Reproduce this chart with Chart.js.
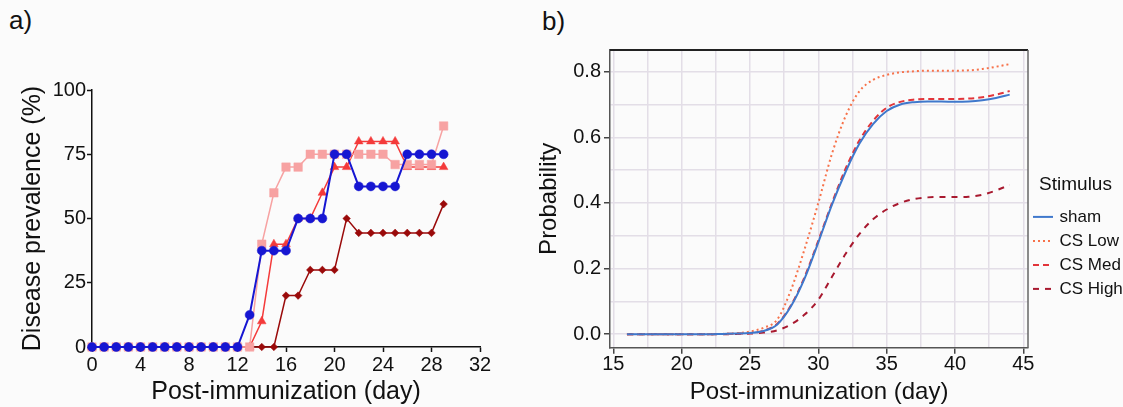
<!DOCTYPE html>
<html><head><meta charset="utf-8">
<script src="https://cdn.jsdelivr.net/npm/chart.js@4.4.1/dist/chart.umd.min.js"></script>
<style>
html,body{margin:0;padding:0;background:#fbfbfb;}
body{width:1123px;height:407px;position:relative;overflow:hidden;font-family:"Liberation Sans",Arial,sans-serif;}
#wa{position:absolute;left:0;top:0;width:535px;height:407px;}
#wb{position:absolute;left:535px;top:0;width:588px;height:407px;}
.lbl{position:absolute;font-size:26px;line-height:26px;color:#111;}
</style></head><body>
<div class="lbl" style="left:9px;top:7px">a)</div>
<div class="lbl" style="left:542px;top:8px">b)</div>
<div id="wa"><canvas id="ca"></canvas></div>
<div id="wb"><canvas id="cb"></canvas></div>
<script>
// ---- Panel a data ----
const daysA = [0,1,2,3,4,5,6,7,8,9,10,11,12,13,14,15,16,17,18,19,20,21,22,23,24,25,26,27,28,29];
const shamA = [0,0,0,0,0,0,0,0,0,0,0,0,0,12.5,37.5,37.5,37.5,50,50,50,75,75,62.5,62.5,62.5,62.5,75,75,75,75];
const lowA  = [0,0,0,0,0,0,0,0,0,0,0,0,0,0,40,60,70,70,75,75,75,75,75,75,75,71,71,71,71,86];
const medA  = [0,0,0,0,0,0,0,0,0,0,0,0,0,0,10,40,40,50,50,60,70,70,80,80,80,80,70,70,70,70];
const highA = [0,0,0,0,0,0,0,0,0,0,0,0,0,0,0,0,20,20,30,30,30,50,44.4,44.4,44.4,44.4,44.4,44.4,44.4,55.6];
const xTicksA = [0,4,8,12,16,20,24,28,32];
const yTicksA = [0,25,50,75,100];

// ---- Panel b data ----
const daysB = [16,17,18,19,20,21,22,23,24,25,26,27,28,29,30,31,32,33,34,35,36,37,38,39,40,41,42,43,44];
const shamB = [0,0,0,0,0,0,0,0.001,0.002,0.004,0.01,0.03,0.085,0.17,0.28,0.395,0.495,0.58,0.64,0.68,0.70,0.707,0.709,0.709,0.708,0.709,0.713,0.72,0.73];
const lowB  = [0,0,0,0,0,0,0,0.001,0.003,0.008,0.02,0.045,0.135,0.26,0.40,0.55,0.665,0.74,0.775,0.79,0.798,0.801,0.803,0.803,0.803,0.804,0.808,0.815,0.823];
const medB  = [0,0,0,0,0,0,0,0.001,0.002,0.004,0.011,0.032,0.088,0.175,0.285,0.40,0.505,0.59,0.65,0.69,0.708,0.715,0.717,0.717,0.717,0.718,0.722,0.73,0.741];
const highB = [0,0,0,0,0,0,0,0,0.001,0.002,0.005,0.012,0.03,0.06,0.105,0.175,0.245,0.305,0.35,0.38,0.40,0.412,0.417,0.418,0.418,0.419,0.425,0.438,0.455];
const xGridB = [15,17.5,20,22.5,25,27.5,30,32.5,35,37.5,40,42.5,45];
const yGridB = [0,0.1,0.2,0.3,0.4,0.5,0.6,0.7,0.8];
const xLabelsB = ['15','20','25','30','35','40','45'];
const yLabelsB = ['0.0','0.2','0.4','0.6','0.8'];

Chart.defaults.font.family = '"Liberation Sans", Arial, sans-serif';
Chart.defaults.color = '#111';
const toXY = (xs, ys) => xs.map((x, i) => ({x: x, y: ys[i]}));

// ---- Chart a ----
new Chart(document.getElementById('ca'), {
  type: 'line',
  data: { datasets: [
    {label:'sham', data: toXY(daysA, shamA), borderColor:'#1616d2', backgroundColor:'#1616d2', pointBorderColor:'#1616d2', borderWidth:2, pointStyle:'circle', pointRadius:4.5, pointBorderWidth:0.5, tension:0, clip:false},
    {label:'CS Low', data: toXY(daysA, lowA), borderColor:'#f7a2a2', backgroundColor:'#f7a2a2', pointBorderColor:'#f7a2a2', borderWidth:1.5, pointStyle:'rect', pointRadius:6, pointBorderWidth:0.5, tension:0, clip:false},
    {label:'CS Med', data: toXY(daysA, medA), borderColor:'#f43a3a', backgroundColor:'#f43a3a', pointBorderColor:'#f43a3a', borderWidth:1.5, pointStyle:'triangle', pointRadius:5, pointBorderWidth:0.5, tension:0, clip:false},
    {label:'CS High', data: toXY(daysA, highA), borderColor:'#9a0a0a', backgroundColor:'#9a0a0a', pointBorderColor:'#9a0a0a', borderWidth:1.5, pointStyle:'rectRot', pointRadius:3.8, pointBorderWidth:0.5, tension:0, clip:false}
  ]},
  options: {
    responsive:true, maintainAspectRatio:false, animation:false,
    layout:{padding:{top:90,right:55,bottom:0,left:0}},
    plugins:{legend:{display:false}, tooltip:{enabled:false}},
    scales:{
      x:{type:'linear', min:0, max:32,
        afterFit: s => { s.height = 60; },
        afterBuildTicks: s => { s.ticks = xTicksA.map(v => ({value:v})); },
        ticks:{font:{size:20}, color:'#111', padding:1, maxRotation:0, autoSkip:false},
        grid:{display:true, drawOnChartArea:false, tickLength:5, tickColor:'#111', tickWidth:1.5},
        border:{color:'#111', width:1.5},
        title:{display:true, text:'Post-immunization (day)', font:{size:25}, color:'#111', padding:{top:0,bottom:0}}},
      y:{type:'linear', min:0, max:100,
        afterFit: s => { s.width = 92; },
        afterBuildTicks: s => { s.ticks = yTicksA.map(v => ({value:v})); },
        ticks:{font:{size:20}, color:'#111', padding:1, autoSkip:false},
        grid:{display:true, drawOnChartArea:false, tickLength:5, tickColor:'#111', tickWidth:1.5},
        border:{color:'#111', width:1.5},
        title:{display:true, text:'Disease prevalence (%)', font:{size:25}, color:'#111', padding:{top:18,bottom:0}}}
    }
  }
});

// ---- Chart b ----
const framePlugin = {
  id:'frame',
  afterDatasetsDraw(chart){
    const ctx = chart.ctx, a = chart.chartArea;
    ctx.save();
    ctx.strokeStyle = '#222'; ctx.lineWidth = 2;
    ctx.beginPath(); ctx.moveTo(a.left, a.top); ctx.lineTo(a.right, a.top); ctx.stroke();
    ctx.strokeStyle = '#666'; ctx.lineWidth = 1.5;
    ctx.beginPath(); ctx.moveTo(a.right, a.top); ctx.lineTo(a.right, a.bottom); ctx.stroke();
    ctx.restore();
  }
};
const legendLines = {
  id:'legendLines',
  afterDraw(chart){
    const lg = chart.legend;
    if (!lg || !lg.legendHitBoxes) return;
    const ctx = chart.ctx;
    lg.legendHitBoxes.forEach((hb, i) => {
      const ds = chart.data.datasets[i];
      const y = hb.top + hb.height / 2;
      ctx.save();
      ctx.strokeStyle = ds.borderColor;
      ctx.lineWidth = ds.borderWidth;
      ctx.setLineDash(ds.borderDash || []);
      ctx.beginPath(); ctx.moveTo(hb.left - 2, y); ctx.lineTo(hb.left + 18, y); ctx.stroke();
      ctx.restore();
    });
  }
};
const isMajorX = v => Math.abs(v % 5) < 1e-6;
const isMajorY = v => Math.round(v * 10) % 2 === 0;
new Chart(document.getElementById('cb'), {
  type: 'line',
  data: { datasets: [
    {label:'sham', data: toXY(daysB, shamB), borderColor:'#3f78cc', backgroundColor:'#3f78cc', borderWidth:2, pointRadius:0, cubicInterpolationMode:'monotone'},
    {label:'CS Low', data: toXY(daysB, lowB), borderColor:'#f7724a', backgroundColor:'#f7724a', borderWidth:2, borderDash:[2,3], pointRadius:0, cubicInterpolationMode:'monotone'},
    {label:'CS Med', data: toXY(daysB, medB), borderColor:'#e2353a', backgroundColor:'#e2353a', borderWidth:2, borderDash:[6,4], pointRadius:0, cubicInterpolationMode:'monotone'},
    {label:'CS High', data: toXY(daysB, highB), borderColor:'#a8192f', backgroundColor:'#a8192f', borderWidth:2, borderDash:[6,6], pointRadius:0, cubicInterpolationMode:'monotone'}
  ]},
  plugins:[framePlugin, legendLines],
  options: {
    responsive:true, maintainAspectRatio:false, animation:false,
    layout:{padding:{top:50,right:0,bottom:0,left:0}},
    plugins:{
      tooltip:{enabled:false},
      legend:{display:true, position:'right', align:'center', maxWidth:95,
        title:{display:true, text:'Stimulus', color:'#111', font:{size:19}, padding:{top:23,bottom:3}, position:'center'},
        labels:{usePointStyle:true, pointStyle:'line', pointStyleWidth:16, padding:7, color:'#111', font:{size:17},
          generateLabels: chart => Chart.defaults.plugins.legend.labels.generateLabels(chart).map(it =>
            Object.assign(it, {strokeStyle:'rgba(0,0,0,0)', fillStyle:'rgba(0,0,0,0)', lineWidth:0}))}}
    },
    scales:{
      x:{type:'linear', min:14.76, max:45.34,
        afterFit: s => { s.height = 59.3; },
        afterBuildTicks: s => { s.ticks = xGridB.map(v => ({value:v})); },
        ticks:{font:{size:20}, color:'#111', padding:-1, maxRotation:0, autoSkip:false,
          callback: v => isMajorX(v) ? xLabelsB[Math.round((v - 15) / 5)] : ''},
        grid:{display:true, color:'#e3dee7', lineWidth:1.5, tickLength:6, tickWidth:1.5,
          tickColor: c => (c.tick && isMajorX(c.tick.value)) ? '#444' : 'rgba(0,0,0,0)'},
        border:{color:'#555', width:1.5},
        title:{display:true, text:'Post-immunization (day)', font:{size:24}, color:'#111', padding:{top:0,bottom:0}}},
      y:{type:'linear', min:-0.041, max:0.866,
        afterFit: s => { s.width = 75; },
        afterBuildTicks: s => { s.ticks = yGridB.map(v => ({value:v})); },
        ticks:{font:{size:20}, color:'#111', padding:3, autoSkip:false,
          callback: v => isMajorY(v) ? yLabelsB[Math.round(v * 5)] : ''},
        grid:{display:true, color:'#e3dee7', lineWidth:1.5, tickLength:6, tickWidth:1.5,
          tickColor: c => (c.tick && isMajorY(c.tick.value)) ? '#444' : 'rgba(0,0,0,0)'},
        border:{color:'#555', width:1.5},
        title:{display:true, text:'Probability', font:{size:24}, color:'#111', padding:{top:0,bottom:0}}}
    }
  }
});
</script>
</body></html>
